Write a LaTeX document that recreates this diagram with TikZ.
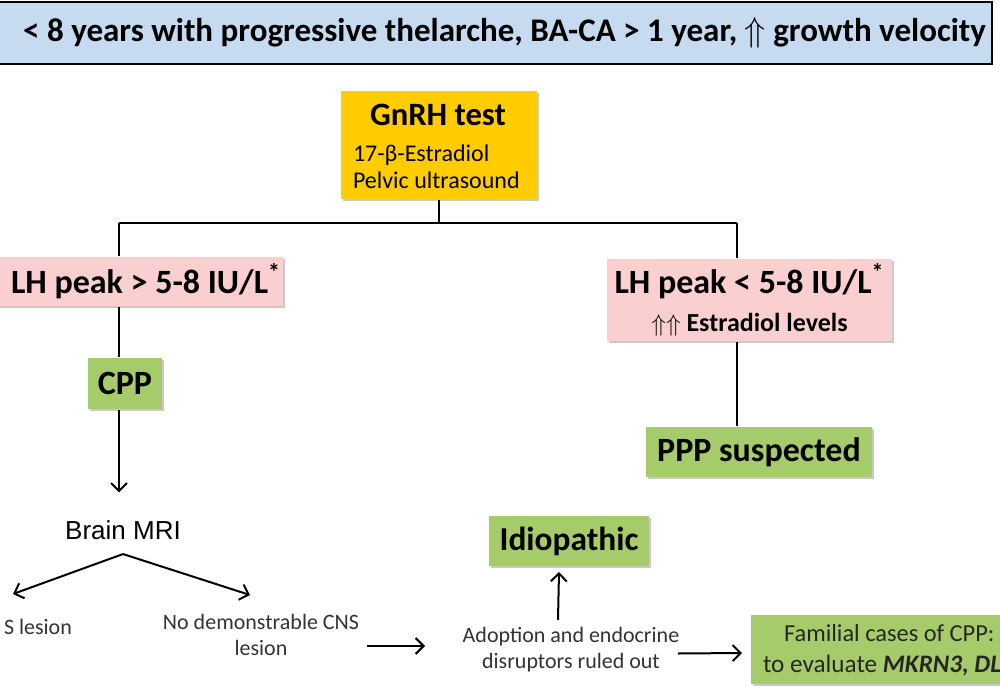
\documentclass[tikz,border=0pt]{standalone}
\usepackage{fontspec}
\setmainfont{Carlito}
\newfontfamily\mrifont{Liberation Sans}
\usetikzlibrary{arrows.meta,shadows}

\definecolor{bannerblue}{HTML}{C6DBEF}
\definecolor{testgold}{HTML}{FFCC00}
\definecolor{lhpink}{HTML}{F9CFCF}
\definecolor{dxgreen}{HTML}{A6CB6B}

\begin{document}
\begin{tikzpicture}[x=0.5pt,y=-0.5pt,line width=1pt,
    >={Straight Barb[length=4pt,width=8pt]},
    boxshade/.style={drop shadow={shadow xshift=1pt,shadow yshift=-1pt,opacity=.35,fill=black!60}},
    banner/.style={draw=black,line width=.8pt,fill=bannerblue},
    goldbox/.style={fill=testgold,boxshade,inner sep=0pt},
    pinkbox/.style={fill=lhpink,boxshade,inner sep=0pt},
    greenbox/.style={fill=dxgreen,boxshade,inner sep=0pt,font=\fontsize{17}{19}\selectfont\bfseries},
    note/.style={font=\fontsize{11}{13}\selectfont,align=center,text=black!80}]

\useasboundingbox (0,0) rectangle (1000,700);

\node[banner,anchor=east,minimum width=520pt,minimum height=31pt] (banner) at (993,33) {};
\node[anchor=east,inner sep=0pt,font=\fontsize{16.5}{18}\selectfont\bfseries] (bannertext) at (987,33)
   {< 8 years with progressive thelarche, BA-CA > 1 year, $\Uparrow$ growth velocity};

\node[goldbox,anchor=north west,minimum width=98pt,minimum height=54pt] (gnrh) at (340,90) {};
\node[font=\fontsize{16.3}{18}\selectfont\bfseries] (gnrhtitle) at (438,115) {GnRH test};
\node[anchor=west,align=left,inner sep=0pt,font=\fontsize{12}{13.5}\selectfont] (gnrhsub) at (352,167)
   {17-β-Estradiol\\Pelvic ultrasound};

\node[pinkbox,anchor=north east,minimum width=165pt,minimum height=24.5pt] (lhhigh) at (284,256) {};
\node[anchor=east,inner sep=0pt,font=\fontsize{17}{20}\selectfont\bfseries] (lhhightext) at (282,281)
   {LH peak > 5-8 IU/L\textsuperscript{*}};
\node[pinkbox,anchor=north west,minimum width=142.5pt,minimum height=41pt,align=center,
      font=\fontsize{17}{20}\selectfont\bfseries] (lhlow) at (606,258)
   {LH peak < 5-8 IU/L\textsuperscript{*}\\[-1pt]{\fontsize{13}{14}\selectfont$\Uparrow\Uparrow$ Estradiol levels}};

\node[greenbox,anchor=north west,minimum width=37pt,minimum height=25.5pt] (cpp) at (87,357) {CPP};
\node[greenbox,anchor=north west,minimum width=113pt,minimum height=25pt] (ppp) at (645,426) {PPP suspected};
\node[greenbox,anchor=north west,minimum width=80pt,minimum height=25pt,font=\fontsize{16.7}{19}\selectfont\bfseries] (idio) at (488,515) {Idiopathic};
\node[greenbox,anchor=north west,minimum width=150pt,minimum height=34.5pt] (fam) at (750,614) {};
\node[anchor=west,inner sep=0pt,font=\fontsize{12.2}{14}\selectfont,text=black!85] (famtop) at (783,633) {Familial cases of CPP:};
\node[anchor=west,inner sep=0pt,font=\fontsize{12.6}{14}\selectfont,text=black!85] (fambot) at (762,665) {to evaluate \textbf{\textit{MKRN3, DL}}};

\node[font=\fontsize{13}{15}\selectfont\mrifont,inner ysep=6.75pt] (mri) at (123,530) {Brain MRI};
\node[note,anchor=west,inner xsep=0pt] (cnsyes) at (3,627) {S lesion};
\node[note] (nocns) at (261,635) {No demonstrable CNS\\lesion};
\node[note] (adopt) at (571,650) {Adoption and endocrine\\disruptors ruled out};

\coordinate (forkl) at (119,223);
\coordinate (forkr) at (737,223);
\coordinate (tipyes) at (13,594);
\coordinate (tipno) at (250,595);
\coordinate (tipadopt) at (425,646);

\draw (gnrh.south) -- (gnrh.south |- forkl);
\draw (forkl) -- (forkr);
\draw (forkl) -- (forkl |- lhhigh.north);
\draw (forkr) -- (forkr |- lhlow.north);
\draw (forkl |- lhhigh.south) -- (forkl |- cpp.north);
\draw (forkr |- lhlow.south) -- (forkr |- ppp.north);
\draw[->] (forkl |- cpp.south) -- ([yshift=6.75pt]mri.north -| forkl);
\draw[->] (mri.south) -- (tipyes);
\draw[->] (mri.south) -- (tipno);
\draw[->] ([yshift=-5.5pt]nocns.east) -- (tipadopt);
\draw[->] ([xshift=-6.5pt]adopt.north) -- ([xshift=-5pt,yshift=-2.5pt]idio.south);
\draw[->] ([xshift=-4.5pt,yshift=-1.75pt]adopt.east) -- ([xshift=-4pt,yshift=-1.75pt]fam.west);
\end{tikzpicture}
\end{document}
